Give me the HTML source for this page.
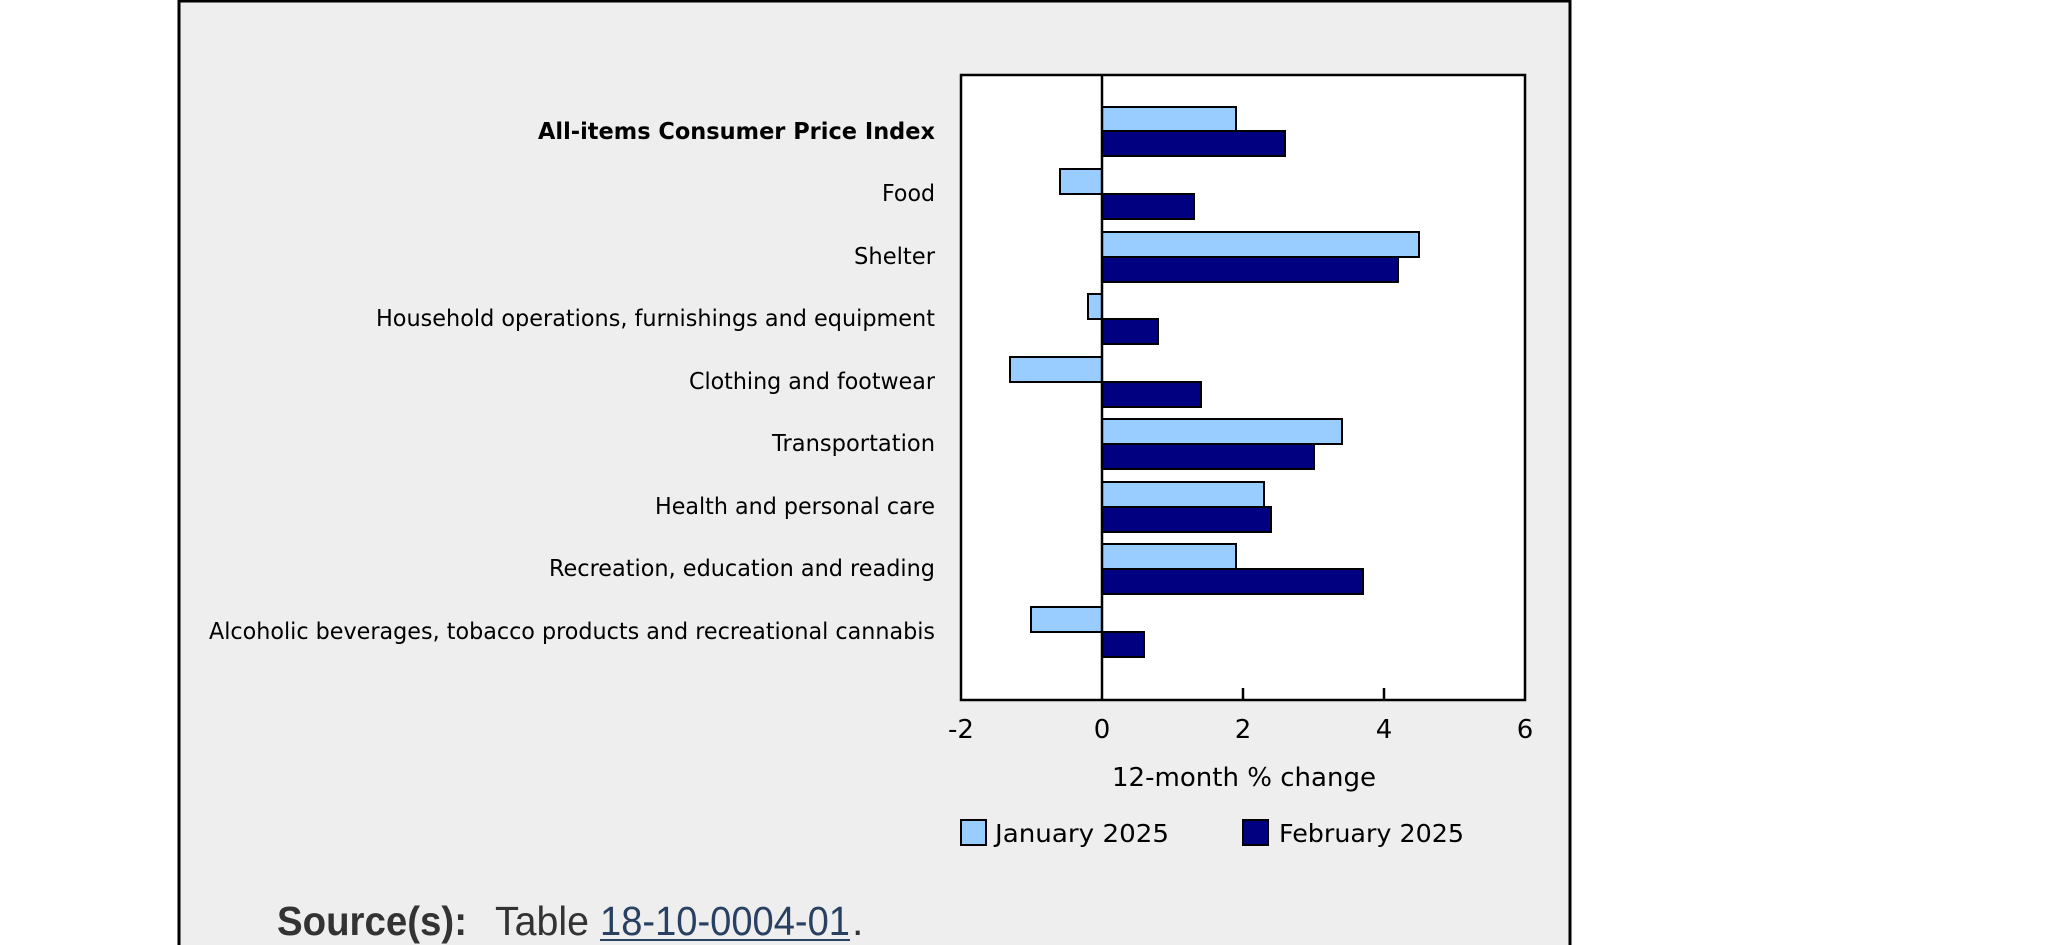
<!DOCTYPE html>
<html><head><meta charset="utf-8"><style>
html,body{margin:0;padding:0;background:#fff;width:2048px;height:945px;overflow:hidden}
svg{display:block}
</style></head><body>
<svg width="2048" height="945" viewBox="0 0 2048 945" xmlns="http://www.w3.org/2000/svg">
<rect x="179" y="1" width="1391" height="950" fill="#eeeeee" stroke="#000" stroke-width="3"/>
<rect x="961" y="75" width="564" height="625" fill="#fff" stroke="#000" stroke-width="2.5"/>
<g stroke="#000" stroke-width="2">
<rect x="1102" y="107" width="134" height="24" fill="#99ccff"/>
<rect x="1102" y="131" width="183" height="25" fill="#000080"/>
<rect x="1060" y="169" width="42" height="25" fill="#99ccff"/>
<rect x="1102" y="194" width="92" height="25" fill="#000080"/>
<rect x="1102" y="232" width="317" height="25" fill="#99ccff"/>
<rect x="1102" y="257" width="296" height="25" fill="#000080"/>
<rect x="1088" y="294" width="14" height="25" fill="#99ccff"/>
<rect x="1102" y="319" width="56" height="25" fill="#000080"/>
<rect x="1010" y="357" width="92" height="25" fill="#99ccff"/>
<rect x="1102" y="382" width="99" height="25" fill="#000080"/>
<rect x="1102" y="419" width="240" height="25" fill="#99ccff"/>
<rect x="1102" y="444" width="212" height="25" fill="#000080"/>
<rect x="1102" y="482" width="162" height="25" fill="#99ccff"/>
<rect x="1102" y="507" width="169" height="25" fill="#000080"/>
<rect x="1102" y="544" width="134" height="25" fill="#99ccff"/>
<rect x="1102" y="569" width="261" height="25" fill="#000080"/>
<rect x="1031" y="607" width="71" height="25" fill="#99ccff"/>
<rect x="1102" y="632" width="42" height="25" fill="#000080"/>
</g>
<line x1="1102" y1="75" x2="1102" y2="700" stroke="#000" stroke-width="2.5"/>
<line x1="1243" y1="688" x2="1243" y2="700" stroke="#000" stroke-width="2.5"/>
<line x1="1384" y1="688" x2="1384" y2="700" stroke="#000" stroke-width="2.5"/>
<g font-family="DejaVu Sans, Liberation Sans, sans-serif" font-size="23" fill="#000" text-anchor="end">
<text x="935" y="139" font-weight="bold" textLength="397" lengthAdjust="spacingAndGlyphs">All-items Consumer Price Index</text>
<text x="935" y="201" textLength="53" lengthAdjust="spacingAndGlyphs">Food</text>
<text x="935" y="264" textLength="81" lengthAdjust="spacingAndGlyphs">Shelter</text>
<text x="935" y="326" textLength="559" lengthAdjust="spacingAndGlyphs">Household operations, furnishings and equipment</text>
<text x="935" y="389" textLength="246" lengthAdjust="spacingAndGlyphs">Clothing and footwear</text>
<text x="935" y="451" textLength="163" lengthAdjust="spacingAndGlyphs">Transportation</text>
<text x="935" y="514" textLength="280" lengthAdjust="spacingAndGlyphs">Health and personal care</text>
<text x="935" y="576" textLength="386" lengthAdjust="spacingAndGlyphs">Recreation, education and reading</text>
<text x="935" y="639" textLength="726" lengthAdjust="spacingAndGlyphs">Alcoholic beverages, tobacco products and recreational cannabis</text>
</g>
<g font-family="DejaVu Sans, Liberation Sans, sans-serif" font-size="26" fill="#000" text-anchor="middle">
<text x="961" y="738">-2</text>
<text x="1102" y="738">0</text>
<text x="1243" y="738">2</text>
<text x="1384" y="738">4</text>
<text x="1525" y="738">6</text>
<text x="1244" y="786" textLength="264" lengthAdjust="spacingAndGlyphs">12-month % change</text>
</g>
<rect x="961" y="820" width="25" height="25" fill="#99ccff" stroke="#000" stroke-width="2"/>
<rect x="1243" y="820" width="25" height="25" fill="#000080" stroke="#000" stroke-width="2"/>
<g font-family="DejaVu Sans, Liberation Sans, sans-serif" font-size="25" fill="#000">
<text x="995" y="842" textLength="174" lengthAdjust="spacingAndGlyphs">January 2025</text>
<text x="1279" y="842" textLength="185" lengthAdjust="spacingAndGlyphs">February 2025</text>
</g>
<g font-family="Liberation Sans, DejaVu Sans, sans-serif" font-size="41" fill="#333">
<text x="277" y="935" font-weight="bold" textLength="190" lengthAdjust="spacingAndGlyphs">Source(s):</text>
<text x="495" y="935" textLength="94" lengthAdjust="spacingAndGlyphs">Table</text>
<text x="600" y="935" fill="#284162" textLength="250" lengthAdjust="spacingAndGlyphs">18-10-0004-01</text>
<text x="852" y="935">.</text>
</g>
<line x1="600" y1="940" x2="850" y2="940" stroke="#284162" stroke-width="2"/>
</svg>
</body></html>
